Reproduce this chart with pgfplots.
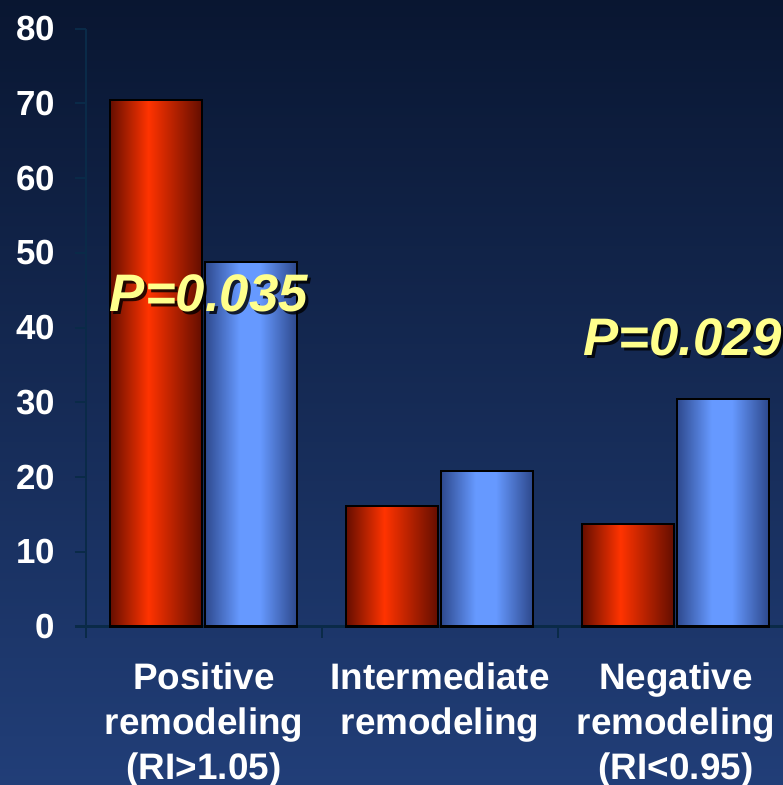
\documentclass[border=0pt]{standalone}
\usepackage{pgfplots}
\pgfplotsset{compat=1.18}
\usepackage{fontspec}
\setmainfont{Liberation Sans}
\definecolor{bgtop}{RGB}{9,22,49}
\definecolor{bgbot}{RGB}{33,62,120}
\definecolor{axcol}{RGB}{10,42,72}
\definecolor{pyellow}{RGB}{255,255,140}
\definecolor{rdark}{RGB}{100,14,0}
\definecolor{rbright}{RGB}{255,51,0}
\definecolor{bdark}{RGB}{45,72,140}
\definecolor{bbright}{RGB}{102,153,255}
\pgfdeclarehorizontalshading{redbar}{100bp}{color(0bp)=(rdark); color(25bp)=(rdark); color(46bp)=(rbright); color(75bp)=(rdark); color(100bp)=(rdark)}
\pgfdeclarehorizontalshading{bluebar}{100bp}{color(0bp)=(bdark); color(25bp)=(bdark); color(44bp)=(bbright); color(55bp)=(bbright); color(75bp)=(bdark); color(100bp)=(bdark)}
\pgfplotsset{
  redbar/.style={draw=black, line width=2bp, shade, shading=redbar, bar shift=-48.5bp},
  bluebar/.style={draw=black, line width=2bp, shade, shading=bluebar, bar shift=46.5bp},
}
\begin{document}
\begin{tikzpicture}
\fill[top color=bgtop, bottom color=bgbot] (0,0) rectangle (783bp,785bp);
\begin{axis}[
  at={(86bp,158.5bp)}, anchor=south west, scale only axis,
  width=708bp, height=598bp,
  xmin=-0.5, xmax=2.5, ymin=0, ymax=80,
  axis x line*=bottom, axis y line*=left,
  axis line style={-, draw=axcol, line width=2bp},
  tick style={draw=axcol, line width=2bp},
  tick align=outside, major tick length=11bp,
  ybar, bar width=92bp,
  xtick={-0.5,0.5,1.5,2.5}, xticklabels={},
  extra x ticks={0,1,2},
  extra x tick labels={Positive\\remodeling\\(RI>1.05), Intermediate\\remodeling, Negative\\remodeling\\(RI<0.95)},
  extra x tick style={major tick length=0pt,
    xticklabel style={font=\fontsize{37}{45}\selectfont\bfseries, text=white, align=center, anchor=north, inner sep=0pt, yshift=-36bp}},
  ytick={0,10,...,80},
  /pgf/number format/assume math mode=true,
  yticklabel style={font=\fontsize{35}{35}\selectfont\bfseries, text=white, anchor=east, inner sep=0pt, xshift=-20bp},
  clip=false,
]
% red series: 70.5, 16.1, 13.7 ; blue series: 48.7, 20.8, 30.4
\addplot[redbar] coordinates {(0,70.5)};
\addplot[redbar] coordinates {(1,16.1)};
\addplot[redbar] coordinates {(2,13.7)};
\addplot[bluebar] coordinates {(0,48.7)};
\addplot[bluebar] coordinates {(1,20.8)};
\addplot[bluebar] coordinates {(2,30.4)};
\node[font=\fontsize{53}{53}\selectfont\bfseries\itshape, text=black, opacity=0.8, anchor=base west, inner sep=0pt] at ([shift={(3bp,-3bp)}]axis cs:-0.40,42.1) {P=0.035};
\node[font=\fontsize{53}{53}\selectfont\bfseries\itshape, text=pyellow, anchor=base west, inner sep=0pt] at (axis cs:-0.40,42.1) {P=0.035};
\node[font=\fontsize{53}{53}\selectfont\bfseries\itshape, text=black, opacity=0.8, anchor=base west, inner sep=0pt] at ([shift={(3bp,-3bp)}]axis cs:1.606,36.2) {P=0.029};
\node[font=\fontsize{53}{53}\selectfont\bfseries\itshape, text=pyellow, anchor=base west, inner sep=0pt] at (axis cs:1.606,36.2) {P=0.029};
\end{axis}
\pgfresetboundingbox
\path[use as bounding box] (0,0) rectangle (783bp,785bp);
\end{tikzpicture}
\end{document}
